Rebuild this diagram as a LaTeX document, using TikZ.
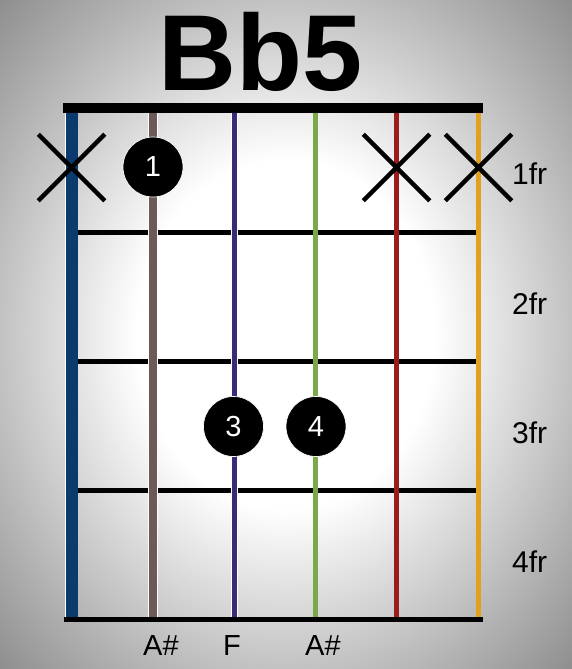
\documentclass[tikz,border=0pt]{standalone}
\usepackage{fontspec}
\setmainfont{Liberation Sans}
\usetikzlibrary{shapes.misc,positioning}
\definecolor{strE}{HTML}{0B3A6F}
\definecolor{strA}{HTML}{6B5A57}
\definecolor{strD}{HTML}{3C2A78}
\definecolor{strG}{HTML}{7AA84A}
\definecolor{strB}{HTML}{9A1C1C}
\definecolor{strHiE}{HTML}{E0A020}
\pgfdeclareradialshading{vignette}{\pgfpointorigin}{color(0bp)=(white); color(13bp)=(white); color(28bp)=(black!30); color(40bp)=(black!53); color(71bp)=(black!60)}
\tikzset{
  mute/.style={cross out,draw=black,line width=4.5pt,minimum size=62pt,inner sep=0pt},
  finger/.style={circle,fill=black,draw=white,line width=0.7pt,minimum size=60pt,inner sep=0pt,
    text=white,font=\fontsize{29}{29}\selectfont},
}

\begin{document}
\begin{tikzpicture}[
  x=1pt,y=-1pt,
  gstring/.style={draw=white,line width=0.7pt,double=#1},
  fret/.style={line width=5pt},
  fretlbl/.style={anchor=base west,inner sep=0pt,font=\fontsize{30}{30}\selectfont},
  notelbl/.style={anchor=base west,inner sep=0pt,font=\fontsize{29}{29}\selectfont}
]

\useasboundingbox (0,0) rectangle (572,669);
\shade[shading=vignette] (0,0) rectangle (572,669);

\node[anchor=base,inner sep=0pt,font=\fontsize{108}{108}\selectfont\bfseries] (title) at (261,90) {Bb5};

% nut and frets
\fill (63,103) rectangle (483,113);
\draw[fret] (71.5,232.5) -- (478.5,232.5);
\draw[fret] (71.5,361.5) -- (478.5,361.5);
\draw[fret] (71.5,490.5) -- (478.5,490.5);

% strings
\draw[gstring=strE,double distance=12pt] (71.5,113) -- (71.5,617);
\draw[gstring=strA,double distance=8pt] (153,113) -- (153,617);
\draw[gstring=strD,double distance=5pt] (234.5,113) -- (234.5,617);
\draw[gstring=strG,double distance=4.5pt] (315.5,113) -- (315.5,617);
\draw[gstring=strB,double distance=4.5pt] (396.5,113) -- (396.5,617);
\draw[gstring=strHiE,double distance=4.5pt] (478.5,113) -- (478.5,617);
\draw[line width=5pt] (64,619.5) -- (483,619.5);

\node[mute] (x1) at (71.5,167.5) {};
\node[mute] (x5) at (396.5,167.5) {};
\node[mute] (x6) at (478.5,167.5) {};

\node[finger] (f1) at (153,167) {1};
\node[finger] (f3) at (233.5,426.5) {3};
\node[finger] (f4) at (316,426.5) {4};

\node[fretlbl] (fr1) at (512,184) {1fr};
\node[fretlbl] (fr2) at (512,314) {2fr};
\node[fretlbl] (fr3) at (512,443) {3fr};
\node[fretlbl] (fr4) at (512,572) {4fr};

\node[notelbl] (n2) at (143,655) {A\#};
\node[notelbl] (n3) at (223,655) {F};
\node[notelbl] (n4) at (305,655) {A\#};

\end{tikzpicture}
\end{document}
